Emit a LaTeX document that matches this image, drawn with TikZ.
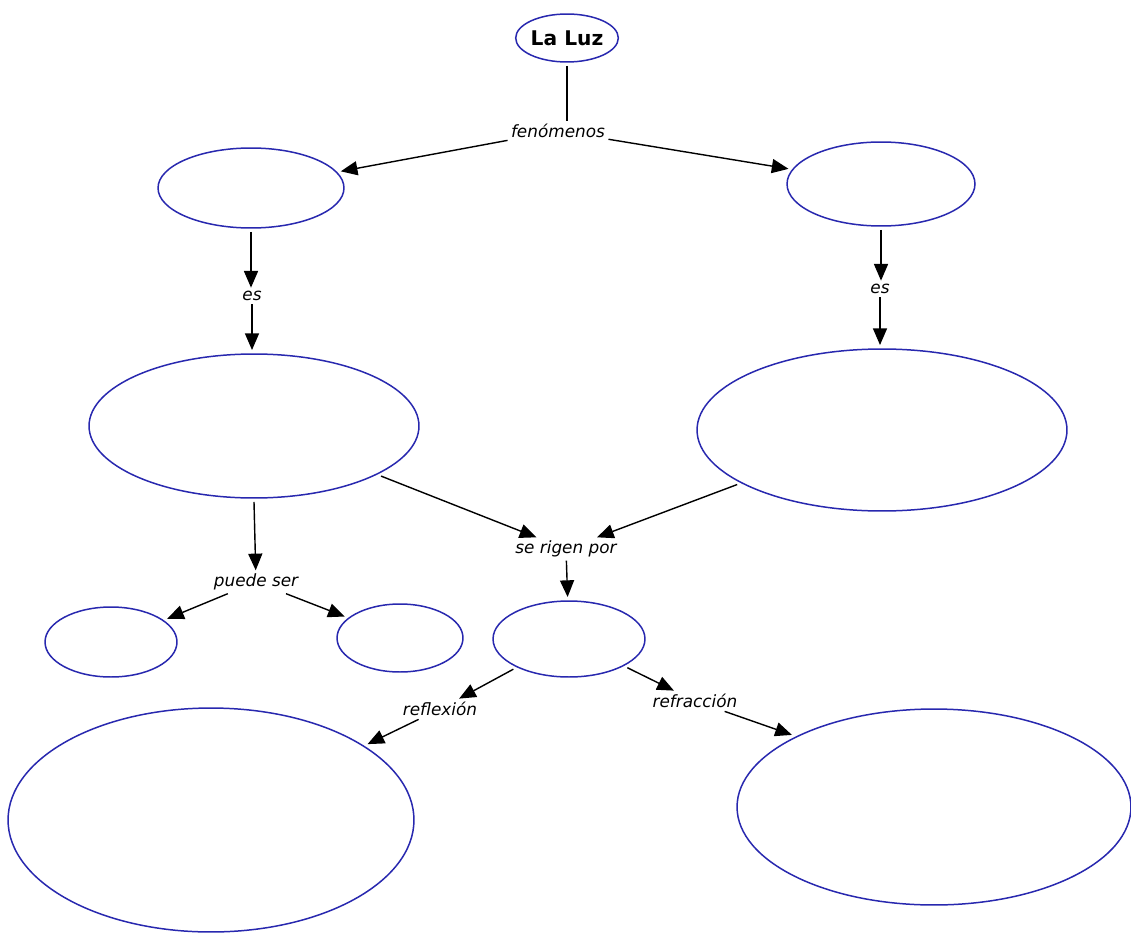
\documentclass[tikz,border=0pt]{standalone}
\usepackage{fontspec}
\setmainfont{DejaVu Sans}
\usetikzlibrary{shapes.geometric,arrows.meta}
\definecolor{ellblue}{RGB}{40,40,175}
\tikzset{
  bubble/.style={ellipse,draw=ellblue,line width=0.85pt,inner sep=0pt,outer sep=0.8mm},
  lbl/.style={font=\fontsize{9.6}{11}\selectfont\itshape,inner sep=2pt,outer sep=0pt},
  conn/.style={line width=0.8pt,black},
  arr/.style={conn,-{Triangle[length=9.5pt,width=8pt]}}
}
\begin{document}
\begin{tikzpicture}[x=0.02cm,y=-0.02cm]
\useasboundingbox[fill=white] (0,0) rectangle (1131,932);
% ellipses
\node[bubble,minimum width=19.2mm,minimum height=9.6mm,font=\fontsize{11.5}{13}\selectfont\bfseries] (luz) at (567,38) {La Luz};
\node[bubble,minimum width=37.2mm,minimum height=16mm] (lt) at (251,188) {};
\node[bubble,minimum width=37.6mm,minimum height=16.8mm] (rt) at (881,184) {};
\node[bubble,minimum width=66mm,minimum height=28.8mm] (lm) at (254,426) {};
\node[bubble,minimum width=74mm,minimum height=32.4mm] (rm) at (882,430) {};
\node[bubble,minimum width=26.4mm,minimum height=14mm] (sl) at (111,642) {};
\node[bubble,minimum width=25.2mm,minimum height=13.6mm] (sm) at (400,638) {};
\node[bubble,minimum width=30.4mm,minimum height=15.2mm] (c) at (569,639) {};
\node[bubble,minimum width=81.2mm,minimum height=44.8mm] (bl) at (211,820) {};
\node[bubble,minimum width=78.8mm,minimum height=39.2mm] (br) at (934,807) {};
% labels
\node[lbl] (fen) at (558,131) {fenómenos};
\node[lbl] (esl) at (252,296) {es};
\node[lbl] (esr) at (880,289) {es};
\node[lbl] (rig) at (566,549) {se rigen por};
\node[lbl] (pue) at (256,582) {puede ser};
\node[lbl] (refl) at (440,709) {reflexión};
\node[lbl] (refr) at (695,701) {refracción};
% connectors
\draw[conn] (luz) -- (luz|-fen.north);
\draw[arr] (fen) -- (lt);
\draw[arr] (fen) -- (rt);
\draw[arr] (lt.south) -- (lt.south|-esl.north);
\draw[arr] (esl) -- (esl|-lm.north);
\draw[arr] (rt.south) -- (rt.south|-esr.north);
\draw[arr] (esr) -- (esr|-rm.north);
\draw[arr] (lm) -- (rig);
\draw[arr] (rm) -- (rig);
\draw[arr] (rig) -- (c);
\draw[arr] (lm.south) -- (pue);
\draw[arr] (pue) -- (sl);
\draw[arr] (pue) -- (sm);
\draw[arr] (c) -- (refl);
\draw[arr] (refl) -- (bl);
\draw[arr] (c) -- (refr);
\draw[arr] (refr) -- (br.north west);
\end{tikzpicture}
\end{document}
